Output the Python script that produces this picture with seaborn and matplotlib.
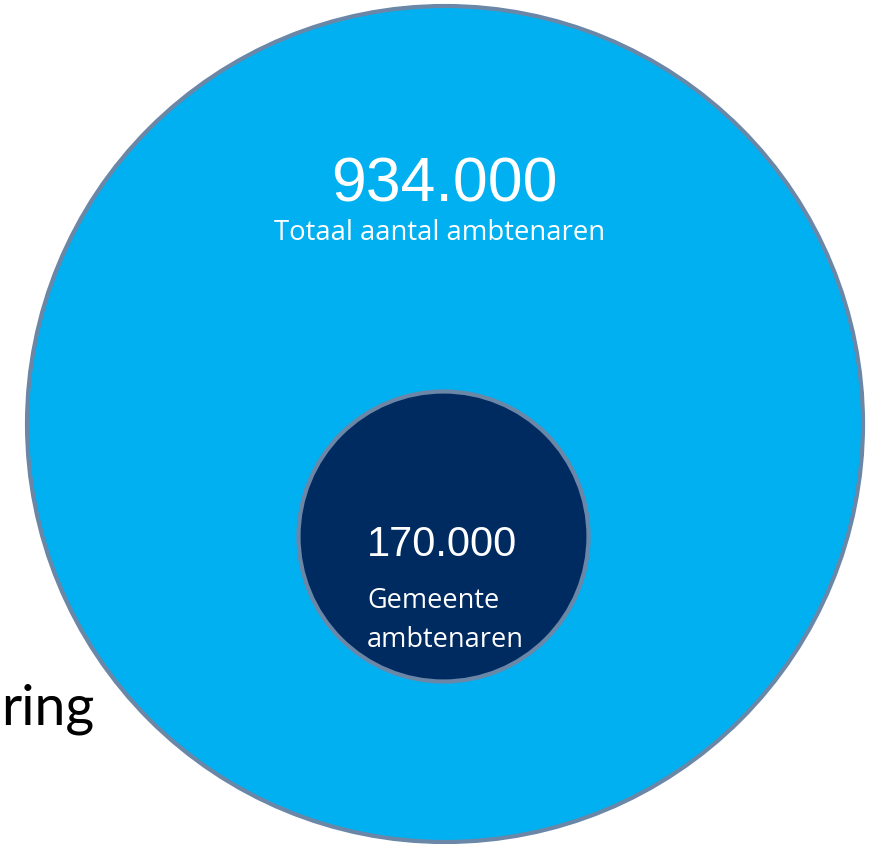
import matplotlib
matplotlib.use("Agg")
import matplotlib.pyplot as plt
from matplotlib.patches import Circle
import seaborn as sns

# data
groups = ["Totaal aantal ambtenaren", "Gemeente\nambtenaren"]
counts = [934000, 170000]
side_text = "ring"

def fmt(v):
    return f"{v:,}".replace(",", ".")

sns.set_theme(style="white")
plt.rcParams["font.family"] = ["Liberation Sans", "DejaVu Sans"]

fig = plt.figure(figsize=(8.79, 8.45), dpi=100)
ax = fig.add_axes([0, 0, 1, 1])
ax.set_xlim(0, 879)
ax.set_ylim(845, 0)
ax.set_aspect("equal")
ax.axis("off")

edge = "#6A87A8"
# big bubble (total) and small bubble (gemeente)
big = Circle((445, 425), 418, facecolor="#00B0F0", edgecolor=edge, lw=3)
small = Circle((443.5, 537.5), 145, facecolor="#002B61", edgecolor=edge, lw=3)
ax.add_patch(big)
ax.add_patch(small)

# labels total
ax.text(444, 202, fmt(counts[0]), color="white", fontsize=45,
        ha="center", va="baseline", family="Liberation Sans")
ax.text(440, 240, groups[0], color="white", fontsize=19.8,
        ha="center", va="baseline", family="Open Sans")

# labels gemeente
ax.text(367, 556, fmt(counts[1]), color="white", fontsize=30,
        ha="left", va="baseline", family="Liberation Sans")
lines = groups[1].split("\n")
ax.text(367, 608, lines[0], color="white", fontsize=19.5,
        ha="left", va="baseline", family="Open Sans")
ax.text(367, 647, lines[1], color="white", fontsize=19.5,
        ha="left", va="baseline", family="Open Sans")

# word at the left edge
ax.text(1, 725, side_text, color="black", fontsize=40,
        ha="left", va="baseline", family="Lato")

fig.savefig("out.png", dpi=100)
